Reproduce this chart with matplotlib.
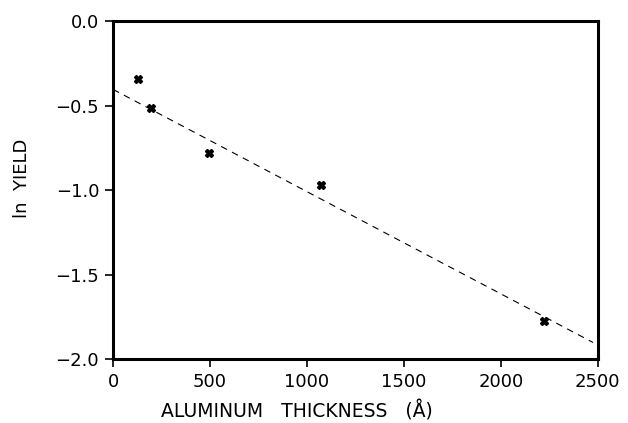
import matplotlib
matplotlib.use("Agg")
import matplotlib.pyplot as plt
import numpy as np

thickness = [129, 194, 496, 1072, 2220]
ln_yield = [-0.341, -0.511, -0.781, -0.970, -1.777]
fit_x = [0, 2475]
fit_intercept = -0.404
fit_slope = -0.000605

xticks = [0, 500, 1000, 1500, 2000, 2500]
yticks = [0.0, -0.5, -1.0, -1.5, -2.0]

plt.rcParams['font.family'] = ['DejaVu Sans']
fig = plt.figure(figsize=(6.28, 4.23), dpi=100)
ax = fig.add_axes([0.180, 0.151, 0.772, 0.799])

fx = np.array(fit_x)
ax.plot(fx, fit_intercept + fit_slope * fx, linestyle=(0, (6, 5)), color='black', linewidth=0.8)
ax.plot(thickness, ln_yield, linestyle='none', marker='X', markersize=6, color='black')

ax.set_xlim(0, 2500)
ax.set_ylim(-2.0, 0.0)
ax.set_xticks(xticks)
ax.set_yticks(yticks)
ax.set_xticklabels([str(t) for t in xticks])
ax.set_yticklabels([f"{t:.1f}".replace('-', '\u2212') for t in yticks])
for s in ax.spines.values():
    s.set_linewidth(2.2)
ax.tick_params(direction='out', length=6, width=1.2, labelsize=13, pad=4)
ax.set_xlabel('ALUMINUM   THICKNESS   (Å)', fontsize=13.5)
ax.set_ylabel('ln  YIELD', fontsize=13)
ax.xaxis.set_label_coords(0.38, -0.122)
ax.yaxis.set_label_coords(-0.17, 0.535)

fig.savefig('out.png', dpi=100)
